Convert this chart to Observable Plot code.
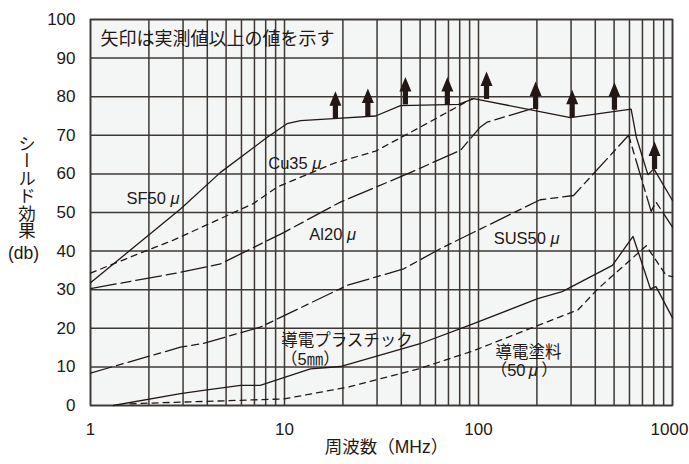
<!DOCTYPE html>
<html><head><meta charset="utf-8">
<script src="https://cdn.jsdelivr.net/npm/d3@7"></script>
<script src="https://cdn.jsdelivr.net/npm/@observablehq/plot@0.6"></script>
<style>
body{margin:0;background:#fff;}
#chart{width:689px;height:464px;}
#chart svg{font-family:"Liberation Sans","Noto Sans CJK JP",Arial,sans-serif;}
</style></head><body><div id="chart"></div>
<script>
// ---- data ----
const xTicks = [1, 10, 100];
const xTickLast = [1000];
const yTicks = [0, 10, 20, 30, 40, 50, 60, 70, 80, 90, 100];
const gridX = [1,2,3,4,5,6,7,8,9,10,20,30,40,50,60,70,80,90,100,200,300,400,500,600,700,800,900,1000];

const sf50X = [1, 2.91, 4.68, 8.15, 10.3, 12.1, 17.9, 29.5, 39.6, 79, 94.4, 298, 612, 651, 747, 802, 1000];
const sf50Y = [31.8, 50.9, 60.4, 69.5, 73, 73.8, 74.3, 75.0, 77.7, 78.0, 79.5, 74.6, 76.8, 69.5, 59.8, 61.3, 53.1];

const cu35X = [1, 1.96, 2.69, 6.9, 9.18, 17.9, 29.5, 50, 92.7];
const cu35Y = [34.3, 40.2, 42.9, 52.3, 56.6, 62.7, 65.9, 72.1, 79.5];

const al20X = [1, 2.91, 4.68, 9.9, 19.4, 42.9, 80.7, 102, 110.6, 189];
const al20Y = [30.3, 34.5, 36.7, 44.8, 52.7, 60, 66.1, 72.1, 73.4, 76.9];

const sus50X = [1, 2.91, 3.82, 7.5, 21, 41.1, 63.5, 80.7, 208, 309, 594, 776, 822, 1000];
const sus50Y = [8.4, 15.1, 16.1, 20.3, 31.1, 35.4, 40.6, 43.2, 53.3, 54.4, 70, 50.3, 52.7, 46.2];

const plasticX = [1.31, 2.91, 3.82, 5.93, 7.5, 13.6, 19.4, 50, 94.4, 202, 270, 490, 626, 770, 822, 1000];
const plasticY = [0, 3.1, 3.9, 5.2, 5.2, 9.5, 10.1, 16, 21.2, 27.7, 29.5, 36.3, 43.8, 30.2, 30.8, 22.7];

const paintX = [1.6, 1.97, 9.9, 21, 50, 94.4, 326, 414, 733, 868, 930, 1000];
const paintY = [0.4, 0.6, 1.7, 4.7, 9.6, 14.2, 24.8, 30.3, 41.4, 35.8, 33.7, 33.4];

// arrows ("measured value or more"): position where each arrow stands on the SF50 curve
const arrowX    = [18.3, 26.9, 42, 69.1, 110, 197, 304, 502, 808];
const arrowBase = [74.3, 75.0, 78.0, 78.0, 79.4, 76.8, 74.7, 76.6, 61.3];

// curve labels
const labelText = ["SF50 μ", "Cu35 μ", "Al20 μ", "SUS50 μ", "導電プラスチック", "（5㎜）", "導電塗料", "（50\u2009μ\u2009）"];
const labelX    = [2.10, 11.3, 17.7, 177, 21.0, 13.6, 181, 172];
const labelY    = [53.5, 62.6, 44.3, 43.1, 16.8, 11.9, 13.6, 9.1];

const noteText = "矢印は実測値以上の値を示す";
const yTitle = "シールド効果";
const yUnit = "(db)";
const xTitle = "周波数（MHz）";

// ---- build ----
const ink = "#231815";
const gridColor = "#3e3835";
const toRows = (xs, ys) => xs.map((x, i) => ({x, y: ys[i]}));
const arrows = arrowX.map((x, i) => ({x, y: arrowBase[i]}));
const labels = labelText.map((t, i) => ({t, x: labelX[i], y: labelY[i]}));

// filled up-arrow glyph (shaft + head), anchored at its base
const upArrow = {
  draw(context) {
    context.moveTo(-2.6, 0);
    context.lineTo(-2.6, -13);
    context.lineTo(-6, -13);
    context.lineTo(0, -27.5);
    context.lineTo(6, -13);
    context.lineTo(2.6, -13);
    context.lineTo(2.6, 0);
    context.closePath();
  }
};

const lineOpts = {x: "x", y: "y", stroke: ink, strokeWidth: 1.3};
const axisFont = 17;

const chart = Plot.plot({
  width: 689, height: 464,
  marginLeft: 90, marginRight: 17, marginTop: 19, marginBottom: 59,
  x: {type: "log", domain: [1, 1000]},
  y: {domain: [0, 100]},
  style: {fontFamily: '"Liberation Sans","Noto Sans CJK JP",Arial,sans-serif', fontSize: "17px", color: ink, background: "white"},
  marks: [
    Plot.frame({fill: "#f4f6f6", stroke: null}),
    Plot.ruleX(gridX, {stroke: gridColor, strokeWidth: 1.5}),
    Plot.ruleY(yTicks, {stroke: gridColor, strokeWidth: 1.5}),
    Plot.frame({stroke: gridColor, strokeWidth: 1.6}),
    Plot.axisX(xTicks, {tickSize: 0, tickPadding: 17, tickFormat: d => String(d), label: null, fontSize: axisFont, fill: ink}),
    Plot.axisX(xTickLast, {tickSize: 0, tickPadding: 17, tickFormat: d => String(d), label: null, fontSize: axisFont, fill: ink, dx: -3}),
    Plot.axisY(yTicks, {tickSize: 0, tickPadding: 15, label: null, fontSize: axisFont, fill: ink}),
    Plot.line(toRows(sf50X, sf50Y), lineOpts),
    Plot.line(toRows(cu35X, cu35Y), {...lineOpts, strokeDasharray: "6,5"}),
    Plot.line(toRows(al20X, al20Y), {...lineOpts, strokeDasharray: "26,5,10,5"}),
    Plot.line(toRows(sus50X, sus50Y), {...lineOpts, strokeDasharray: "22,5,7,5"}),
    Plot.line(toRows(plasticX, plasticY), lineOpts),
    Plot.line(toRows(paintX, paintY), {...lineOpts, strokeDasharray: "6,5"}),
    Plot.dot(arrows, {x: "x", y: "y", symbol: upArrow, r: 5, fill: ink, stroke: null}),
    Plot.text(labels, {x: "x", y: "y", text: "t", fontSize: 16.5, fill: ink, textAnchor: "middle"}),
    Plot.text([noteText], {frameAnchor: "top-left", dx: 10, dy: 19.5, lineAnchor: "middle", textAnchor: "start", fontSize: 18, fill: ink}),
    Plot.text([yTitle], {frameAnchor: "left", dx: -65, dy: -31.5, fontSize: 17.5, fill: ink, textAnchor: "middle"}),
    Plot.text([yUnit], {frameAnchor: "left", dx: -67, dy: 40.5, fontSize: 17.5, fill: ink, textAnchor: "middle"}),
    Plot.text([xTitle], {frameAnchor: "bottom", dx: 5, dy: 47, fontSize: 17.5, fill: ink, textAnchor: "middle"})
  ]
});

document.getElementById("chart").appendChild(chart);

// italic μ and vertical y title
const NS = "http://www.w3.org/2000/svg";
chart.querySelectorAll("text").forEach(t => {
  const s = t.textContent;
  if (s === yTitle) {
    t.setAttribute("writing-mode", "vertical-rl");
    t.style.writingMode = "vertical-rl";
    t.removeAttribute("dy");
  }
  if (s.includes("μ") && t.children.length === 0) {
    const parts = s.split("μ");
    t.textContent = "";
    parts.forEach((p, i) => {
      if (i > 0) {
        const ts = document.createElementNS(NS, "tspan");
        ts.setAttribute("font-style", "italic");
        ts.textContent = "μ";
        t.appendChild(ts);
      }
      if (p) t.appendChild(document.createTextNode(p));
    });
  }
});
</script>
</body></html>
